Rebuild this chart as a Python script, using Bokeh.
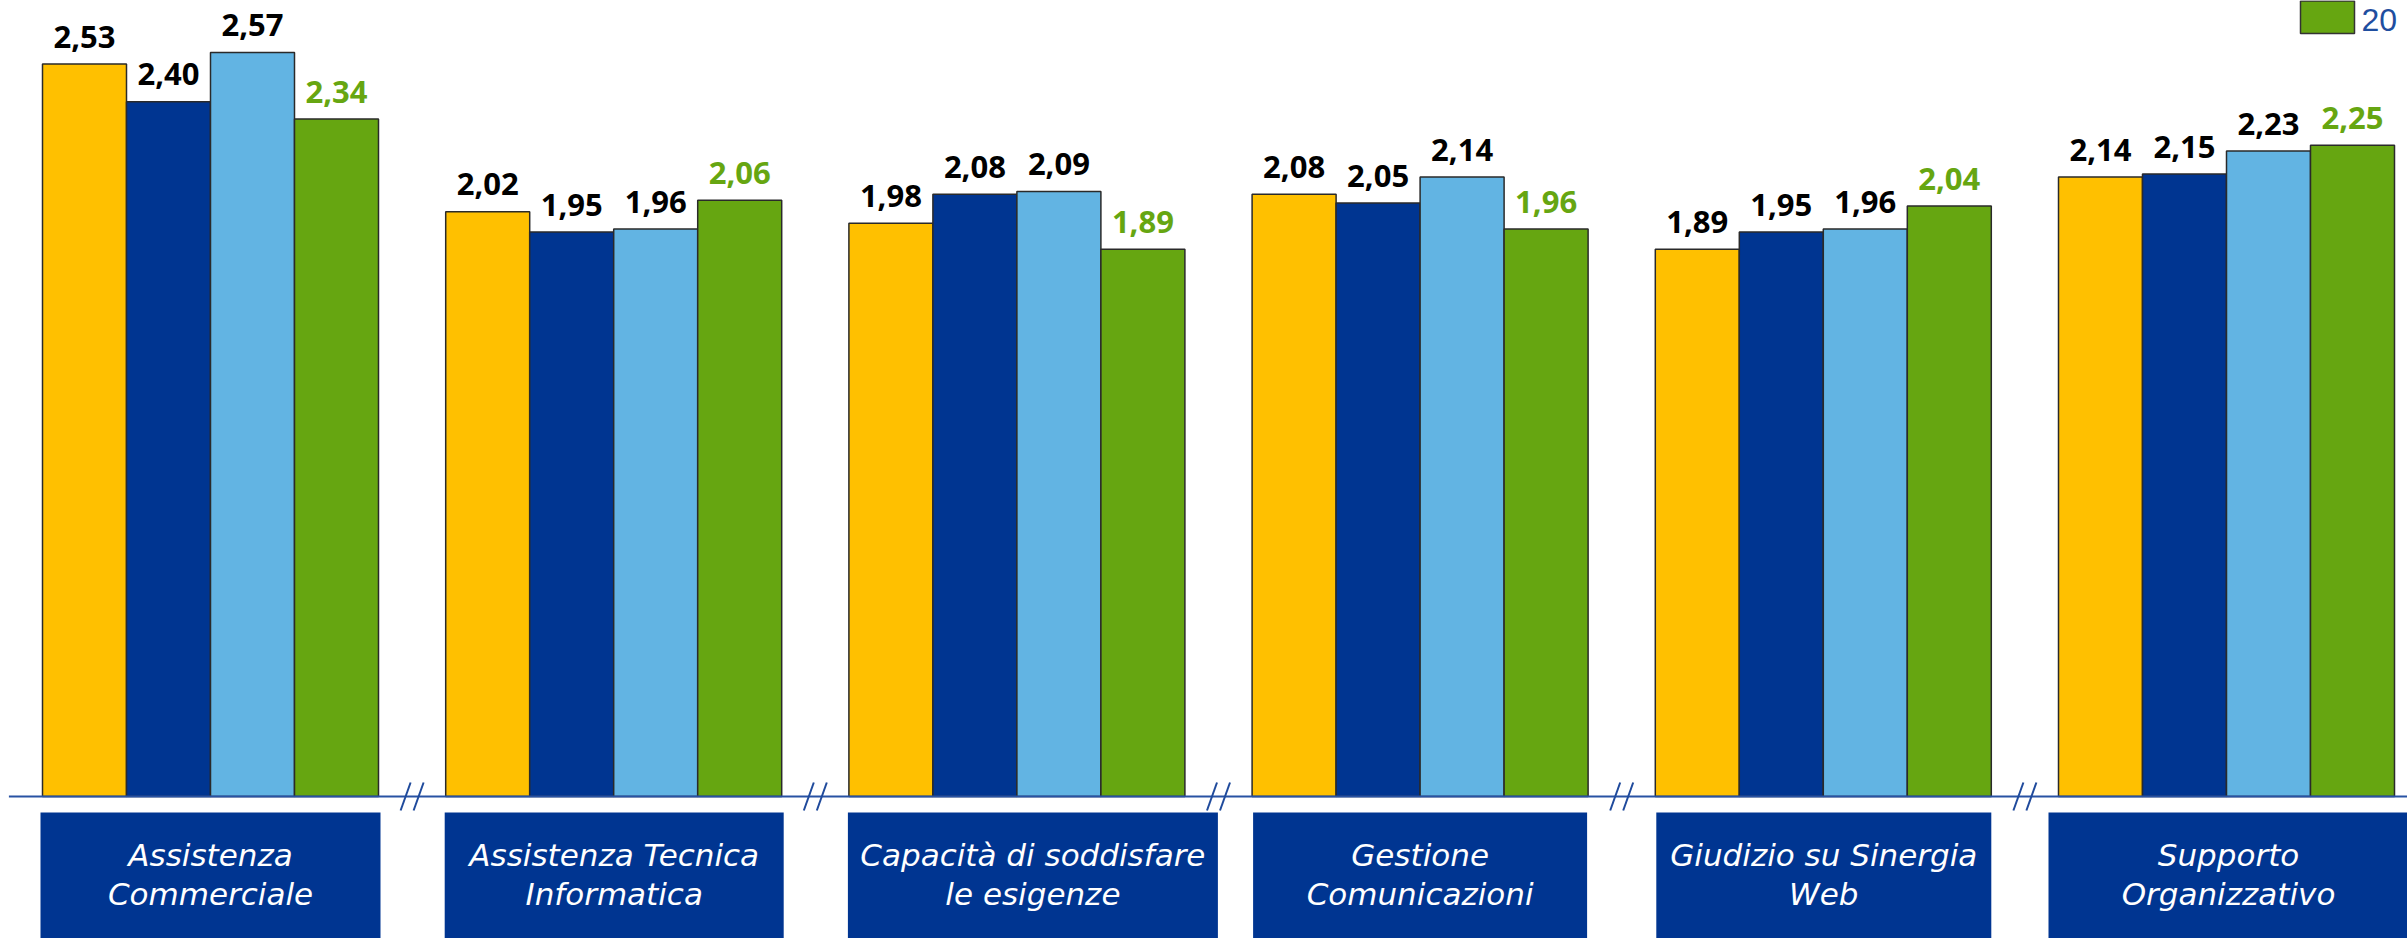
from bokeh.plotting import figure
from bokeh.models import Range1d, ColumnDataSource
from bokeh.core.properties import value
from bokeh.embed import file_html
from bokeh.resources import INLINE

# ---- data -------------------------------------------------------------
cat_line1 = ["Assistenza", "Assistenza Tecnica", "Capacità di soddisfare",
             "Gestione", "Giudizio su Sinergia", "Supporto"]
cat_line2 = ["Commerciale", "Informatica", "le esigenze",
             "Comunicazioni", "Web", "Organizzativo"]

serie_1 = [2.53, 2.02, 1.98, 2.08, 1.89, 2.14]
serie_2 = [2.40, 1.95, 2.08, 2.05, 1.95, 2.15]
serie_3 = [2.57, 1.96, 2.09, 2.14, 1.96, 2.23]
serie_4 = [2.34, 2.06, 1.89, 1.96, 2.04, 2.25]

series = [serie_1, serie_2, serie_3, serie_4]
colors = ["#FFC000", "#003591", "#62B4E3", "#66A611"]
label_colors = ["#000000", "#000000", "#000000", "#66A611"]
legend_text = "20"

# ---- layout -----------------------------------------------------------
W, H = 2407, 938
PX_PER_CAT = 403.2      # horizontal pixels per category slot
PX_PER_UNIT = 289.5     # vertical pixels per value unit
BASE_PX = 796           # pixel row of the zero line

x_start = 0.5 - 210 / PX_PER_CAT
x_end = x_start + W / PX_PER_CAT
y_end = BASE_PX / PX_PER_UNIT
y_start = -(H - BASE_PX) / PX_PER_UNIT


def dx(px):
    return px / PX_PER_CAT


def dy(px):
    return px / PX_PER_UNIT


def px_x(px):
    return x_start + px / PX_PER_CAT


def px_y(px):
    return (BASE_PX - px) / PX_PER_UNIT


def lift(size):
    # baseline correction for text drawn with the alphabetic baseline
    return -0.43 * size


p = figure(width=W, height=H,
           x_range=Range1d(x_start, x_end), y_range=Range1d(y_start, y_end),
           x_axis_type=None, y_axis_type=None,
           output_backend="svg", toolbar_location=None,
           min_border=0, outline_line_color=None,
           background_fill_color="white", border_fill_color="white")

n = len(cat_line1)
centers = [i + 0.5 for i in range(n)]
bar_w = dx(84)
offsets = [-1.5 * bar_w, -0.5 * bar_w, 0.5 * bar_w, 1.5 * bar_w]

# bars and their value labels
VAL_SIZE = 31
for vals, col, lcol, off in zip(series, colors, label_colors, offsets):
    src = ColumnDataSource(dict(
        x=[c + off for c in centers],
        top=vals,
        lab=[f"{v:.2f}".replace(".", ",") for v in vals],
    ))
    p.vbar(x="x", top="top", bottom=0, width=bar_w, source=src,
           fill_color=col, line_color="#2a2a2a", line_width=1.5)
    p.text(x="x", y="top", text="lab", source=src,
           text_align="center", text_baseline="alphabetic",
           y_offset=-14 + lift(VAL_SIZE),
           text_font=value("Open Sans"), text_font_style="bold",
           text_font_size=f"{VAL_SIZE}px", text_color=lcol)

# category axis line with break marks between groups
axis_col = "#2852A3"
p.segment(x0=[0], y0=[0], x1=[n], y1=[0], line_color=axis_col, line_width=2)
brk = list(range(1, n))
for side in (-6.5, 6.5):
    p.segment(x0=[b + dx(side - 5) for b in brk], y0=[-dy(14)] * len(brk),
              x1=[b + dx(side + 5) for b in brk], y1=[dy(14)] * len(brk),
              line_color="#1F4A9C", line_width=2)

# category label boxes
pad_left = [170, 169, 169, 167, 167, 178]
pad_right = [170, 170, 201, 167, 168, 182]
box_l = [c - dx(a) for c, a in zip(centers, pad_left)]
box_r = [c + dx(b) for c, b in zip(centers, pad_right)]
box_top = px_y(812)
p.quad(left=box_l, right=box_r, top=box_top, bottom=y_start - 1,
       fill_color="#003591", line_color=None)
box_c = [(a + b) / 2 for a, b in zip(box_l, box_r)]
CAT_SIZE = 31
for lines, row_px in ((cat_line1, 868), (cat_line2, 906.5)):
    p.text(x=box_c, y=[px_y(row_px)] * n, text=lines,
           text_align="center", text_baseline="alphabetic",
           y_offset=lift(CAT_SIZE),
           text_font=value("DejaVu Sans"), text_font_style="italic",
           text_font_size=f"{CAT_SIZE}px", text_color="white")

# legend entry for the last series
LEG_SIZE = 32
p.quad(left=[px_x(2300)], right=[px_x(2354)], top=[px_y(0.5)], bottom=[px_y(33)],
       fill_color=colors[3], line_color="#333333", line_width=1.5)
p.text(x=[px_x(2361)], y=[px_y(33)], text=[legend_text],
       text_align="left", text_baseline="alphabetic", y_offset=lift(LEG_SIZE),
       text_font=value("Liberation Sans"), text_font_size=f"{LEG_SIZE}px",
       text_color="#1F4E9F")

open("out.html", "w").write(file_html(p, INLINE))
